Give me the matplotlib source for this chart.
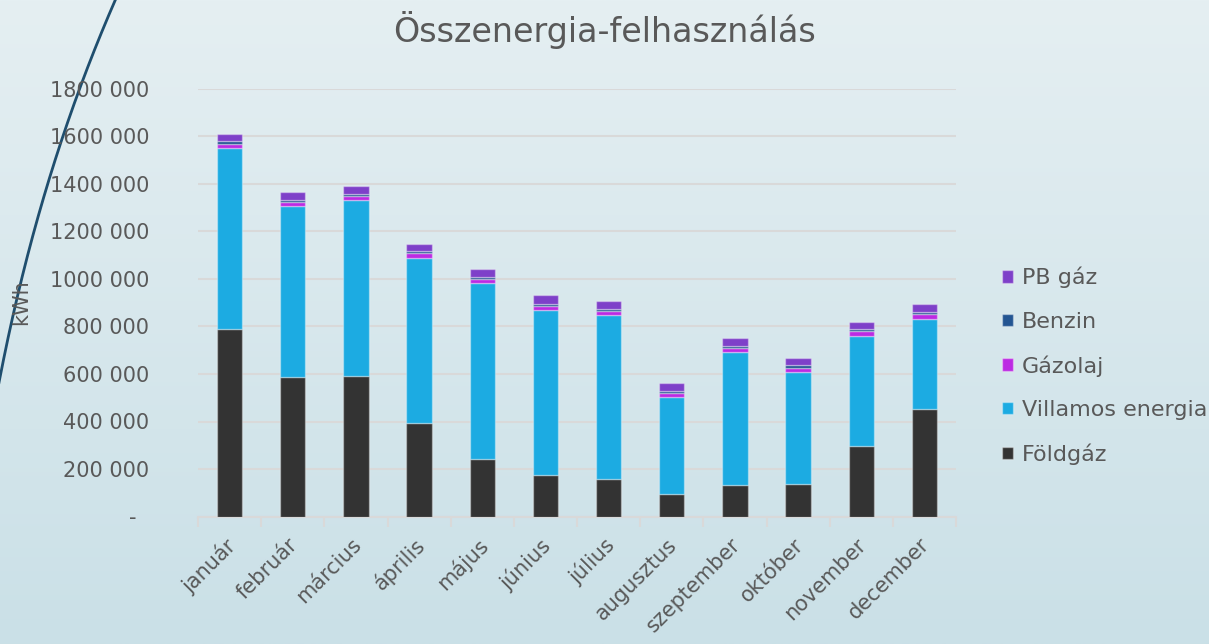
import numpy as np
import matplotlib
matplotlib.use("Agg")
from matplotlib import pyplot as plt
from matplotlib.ticker import FuncFormatter, FixedLocator
from matplotlib.transforms import ScaledTranslation

# monthly energy use, kWh
months = ["január", "február", "március", "április", "május", "június",
          "július", "augusztus", "szeptember", "október", "november", "december"]
foldgaz = [789000, 587000, 592000, 395000, 244000, 176000,
           160000, 96000, 134000, 138000, 298000, 453000]
villamos = [762000, 719000, 739000, 693000, 738000, 693000,
            689000, 408000, 558000, 470000, 464000, 380000]
gazolaj = [18000, 18000, 17000, 20000, 18000, 18000,
           17000, 15500, 18000, 18000, 18500, 20000]
benzin = [10000, 8500, 9500, 8500, 9500, 8500,
          9500, 8500, 9500, 11000, 7000, 9500]
pb_gaz = [30200, 34100, 33000, 29500, 31200, 35500,
          32500, 34000, 31900, 30300, 32500, 30300]

series = [("Földgáz", foldgaz, "#333333"),
          ("Villamos energia", villamos, "#1cabe2"),
          ("Gázolaj", gazolaj, "#bc2ae3"),
          ("Benzin", benzin, "#235592"),
          ("PB gáz", pb_gaz, "#7e40c9")]

txt = "#595959"
grid_c = "#d9d9d9"
plt.rcParams["font.family"] = ["DejaVu Sans"]

W, H = 1209, 644
fig = plt.figure(figsize=(W / 100, H / 100), dpi=100)

# slide background: soft vertical gradient + decorative arc on the left
bg = fig.add_axes([0, 0, 1, 1], zorder=-10)
top = np.array([229, 239, 242]) / 255
bot = np.array([202, 224, 231]) / 255
t = np.linspace(0, 1, 256)[:, None]
grad = top * (1 - t) + bot * t
bg.imshow(grad[:, None, :].repeat(2, axis=1), aspect="auto", extent=[0, W, H, 0])
# arc traced in pixel coords (decoration of the slide template), smoothed
arc_y = [0, 33, 83, 127, 153, 187, 233, 273, 317, 377]
arc_x = [116, 100, 82, 67, 57, 47, 33, 23, 13, 0]
coef = np.polyfit(arc_y, arc_x, 3)
yy = np.linspace(-5, 395, 300)
bg.plot(np.polyval(coef, yy), yy, color="#1f4e6e", lw=2)
bg.set_xlim(0, W)
bg.set_ylim(H, 0)
bg.axis("off")

ax = fig.add_axes([198 / W, 1 - 516.5 / H, (956 - 198) / W, (516.5 - 89) / H])
ax.set_facecolor("none")

x = np.arange(len(months))
bottom = np.zeros(len(months))
for name, vals, col in series:
    ax.bar(x, vals, width=0.4, bottom=bottom, color=col, label=name,
           edgecolor=(1, 1, 1, 0.35), linewidth=1, zorder=3)
    bottom += np.array(vals)


def fmt(v, p):
    if v == 0:
        return "-\u2007"
    s = f"{int(v):,}".replace(",", " ")
    if v >= 1000000:
        s = s.replace(" ", "", 1)
    return s


ax.set_xlim(-0.5, len(months) - 0.5)
ax.set_ylim(0, 1800000)
ax.set_yticks(np.arange(0, 1800001, 200000))
ax.yaxis.set_major_formatter(FuncFormatter(fmt))
ax.grid(axis="y", color=grid_c, lw=1.5, zorder=0)
ax.tick_params(axis="y", length=0, pad=35, labelsize=15, labelcolor=txt)

ax.set_xticks(x)
ax.set_xticklabels(months, rotation=45, ha="right", va="top", rotation_mode="anchor")
ax.tick_params(axis="x", length=0, pad=13, labelsize=15, labelcolor=txt)
shift = ScaledTranslation(-5 / 100, 0, fig.dpi_scale_trans)
for lab in ax.get_xticklabels():
    lab.set_transform(lab.get_transform() + shift)
ax.xaxis.set_minor_locator(FixedLocator(np.arange(-0.5, len(months), 1)))
ax.tick_params(axis="x", which="minor", length=7, width=1.5, color=grid_c)

for s in ["top", "right", "left"]:
    ax.spines[s].set_visible(False)
ax.spines["bottom"].set_color(grid_c)
ax.spines["bottom"].set_linewidth(1.5)

fig.text(0.5, 1 - 30 / H, "Összenergia-felhasználás", ha="center", va="center",
         fontsize=24, color=txt)
fig.text(21 / W, 1 - 302 / H, "kWh", rotation=90, ha="center", va="center",
         fontsize=15, color=txt)

h, l = ax.get_legend_handles_labels()
leg = ax.legend(h[::-1], l[::-1], loc="upper left",
                bbox_to_anchor=(993 / W, 1 - 258 / H), bbox_transform=fig.transFigure,
                frameon=False, fontsize=16, handlelength=0.5, handleheight=0.5,
                handletextpad=0.4, labelspacing=1.05, borderaxespad=0)
for tx in leg.get_texts():
    tx.set_color(txt)

fig.savefig("out.png", dpi=100)
